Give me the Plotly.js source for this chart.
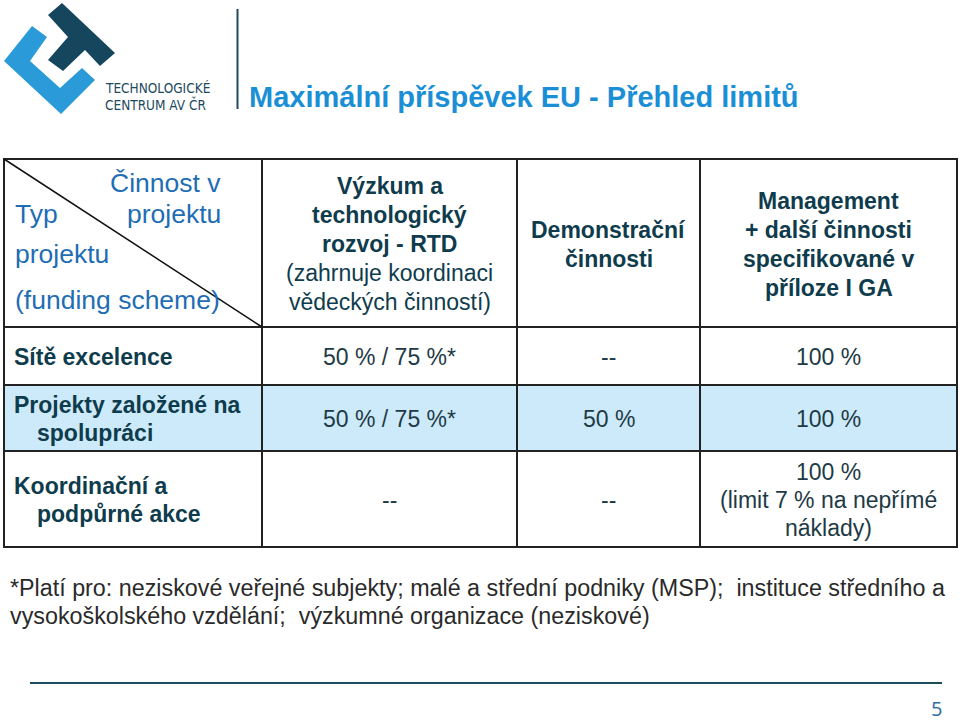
<!DOCTYPE html>
<html><head><meta charset="utf-8">
<script src="https://cdn.plot.ly/plotly-3.0.1.min.js"></script>
<style>html,body{margin:0;padding:0;background:#fff;}#chart{width:960px;height:721px;}</style>
</head><body><div id="chart"></div>
<script>
// ---- data ----
const slideTitle = "Maximální příspěvek EU - Přehled limitů";
const logoLines = ["TECHNOLOGICKÉ", "CENTRUM AV ČR"];
const cornerTop = ["Činnost v", "projektu"];
const cornerBottom = ["Typ", "projektu", "(funding scheme)"];
const activityTitles = [
  ["Výzkum a", "technologický", "rozvoj - RTD"],
  ["Demonstrační", "činnosti"],
  ["Management", "+ další činnosti", "specifikované v", "příloze I GA"]
];
const activityNotes = [["(zahrnuje koordinaci", "vědeckých činností)"], [], []];
const schemes = [
  ["Sítě excelence"],
  ["Projekty založené na", "spolupráci"],
  ["Koordinační a", "podpůrné akce"]
];
const limits = [
  [["50 % / 75 %*"], ["--"], ["100 %"]],
  [["50 % / 75 %*"], ["50 %"], ["100 %"]],
  [["--"], ["--"], ["100 %", "(limit 7 % na nepřímé", "náklady)"]]
];
const footnote = [
  "*Platí pro: neziskové veřejné subjekty; malé a střední podniky (MSP);  instituce středního a",
  "vysokoškolského vzdělání;  výzkumné organizace (neziskové)"
];
const pageNumber = "5";

// ---- layout geometry (pixel space) ----
const colX = [4, 262, 517, 700, 957];
const rowY = [159, 327, 385, 451, 547];
const FONT = "Liberation Sans, Arial, sans-serif";
const cTitle = "#1b8fd6", cDark = "#0f3c4d", cVal = "#1d3a45", cBlue = "#1f6db5";

const ann = [];
const shapes = [];
function txt(x, y, t, opt) {
  ann.push(Object.assign({x: x, y: y, xref: 'x', yref: 'y', text: t, showarrow: false,
    xanchor: 'center', yanchor: 'middle',
    font: {family: FONT, size: 23, color: cDark}}, opt || {}));
}

// title
txt(247, 97, "<b>" + slideTitle + "</b>", {xanchor: 'left', font: {family: FONT, size: 29, color: cTitle}});

// logo
shapes.push({type: 'path', xref: 'x', yref: 'y', line: {width: 0}, fillcolor: '#2b9ad9',
  path: 'M32,26 L4,61 L61,114 L95,80 L82,68 L60,88 L30,61 L47,37 Z'});
shapes.push({type: 'path', xref: 'x', yref: 'y', line: {width: 0}, fillcolor: '#15465e',
  path: 'M48,15 L62,3 L115,53 L100,66 L85,50 L63,71 L48,60 L68,37 Z'});
logoLines.forEach((l, i) => txt(103, 88 + i * 16, l, {xanchor: 'left',
  font: {family: "Liberation Sans Narrow, DejaVu Sans Condensed, sans-serif", size: 13.5, color: '#1d4a5e'}}));
shapes.push({type: 'line', xref: 'x', yref: 'y', x0: 237.5, x1: 237.5, y0: 9, y1: 109, line: {color: '#1d4a5e', width: 2}});

// table background row
shapes.push({type: 'rect', xref: 'x', yref: 'y', x0: colX[0], x1: colX[4], y0: rowY[2], y1: rowY[3],
  fillcolor: '#cdeafb', line: {width: 0}, layer: 'below'});
// grid lines
rowY.forEach(y => shapes.push({type: 'line', xref: 'x', yref: 'y', x0: colX[0] - 1, x1: colX[4] + 1, y0: y, y1: y,
  line: {color: '#222', width: 2}}));
colX.forEach(x => shapes.push({type: 'line', xref: 'x', yref: 'y', x0: x, x1: x, y0: rowY[0], y1: rowY[4],
  line: {color: '#222', width: 2}}));
shapes.push({type: 'line', xref: 'x', yref: 'y', x0: colX[0], y0: rowY[0], x1: colX[1], y1: rowY[1],
  line: {color: '#111', width: 1.5}});

// corner cell
const cornerFont = {family: FONT, size: 26.5, color: cBlue};
txt(223, 183, cornerTop[0], {xanchor: 'right', font: cornerFont});
txt(223, 214, cornerTop[1], {xanchor: 'right', font: cornerFont});
const cornerY = [214, 254, 300];
cornerBottom.forEach((l, i) => txt(13, cornerY[i], l, {xanchor: 'left', font: cornerFont}));

// activity headers
const LH = 29;
activityTitles.forEach((lines, c) => {
  const all = lines.map(l => "<b>" + l + "</b>").concat(activityNotes[c]);
  const cx = (colX[c + 1] + colX[c + 2]) / 2;
  const cy = (rowY[0] + rowY[1]) / 2 + 1;
  all.forEach((l, i) => txt(cx, cy + (i - (all.length - 1) / 2) * LH, l,
    {font: {family: FONT, size: 23, color: cDark}}));
});

// row labels
const LH2 = 28;
schemes.forEach((lines, r) => {
  const cy = (rowY[r + 1] + rowY[r + 2]) / 2 + 1;
  lines.forEach((l, i) => txt(i === 0 ? 12 : 35, cy + (i - (lines.length - 1) / 2) * LH2, "<b>" + l + "</b>",
    {xanchor: 'left', font: {family: FONT, size: 23, color: cDark}}));
});

// values
limits.forEach((row, r) => {
  const cy = (rowY[r + 1] + rowY[r + 2]) / 2 + 1;
  row.forEach((lines, c) => {
    const cx = (colX[c + 1] + colX[c + 2]) / 2;
    lines.forEach((l, i) => txt(cx, cy + (i - (lines.length - 1) / 2) * LH2, l,
      {font: {family: FONT, size: 23, color: cVal}}));
  });
});

// footnote
footnote.forEach((l, i) => txt(8, 588 + i * 28, l, {xanchor: 'left', font: {family: FONT, size: 23.3, color: '#2a2a2a'}}));

// bottom rule + page number
shapes.push({type: 'line', xref: 'x', yref: 'y', x0: 30, x1: 942, y0: 683, y1: 683, line: {color: '#1d4e5e', width: 2}});
txt(936, 708, pageNumber, {font: {family: "Open Sans, sans-serif", size: 20, color: '#2e6da4'}});

const layout = {
  width: 960, height: 721, margin: {l: 0, r: 0, t: 0, b: 0},
  paper_bgcolor: '#fff', plot_bgcolor: '#fff', showlegend: false,
  xaxis: {range: [0, 960], visible: false, fixedrange: true},
  yaxis: {range: [721, 0], visible: false, fixedrange: true},
  shapes: shapes, annotations: ann
};
Plotly.newPlot('chart', [{x: [], y: [], type: 'scatter', mode: 'markers'}], layout, {staticPlot: true, displayModeBar: false});
</script></body></html>
